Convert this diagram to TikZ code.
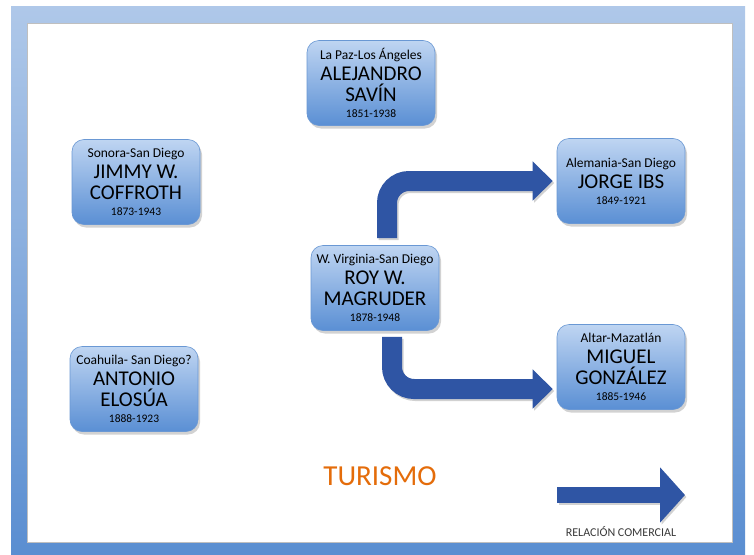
\documentclass[tikz,border=0pt]{standalone}
\usepackage{fontspec}
\setmainfont{Carlito}
\usetikzlibrary{arrows.meta,shadows}
\definecolor{frametop}{HTML}{AFC8E9}
\definecolor{framebot}{HTML}{5A8ED1}
\definecolor{boxtop}{HTML}{BFD5F2}
\definecolor{boxbot}{HTML}{5A8FD4}
\definecolor{boxline}{HTML}{6A98D4}
\definecolor{arrowblue}{HTML}{2F55A4}
\definecolor{turismo}{HTML}{E46C0A}
\definecolor{legendtext}{HTML}{3A3A3A}
\newcommand{\origin}[1]{{\fontsize{13.5}{21}\selectfont #1}}
\newcommand{\years}[1]{{\fontsize{11.5}{21}\selectfont #1}}
\begin{document}
\begin{tikzpicture}[x=1pt,y=-1pt,
  person/.style={rounded corners=12pt, minimum width=128pt, minimum height=85pt,
    inner sep=2pt, align=center, top color=boxtop, bottom color=boxbot,
    draw=boxline, line width=0.6pt,
    drop shadow={shadow xshift=2pt, shadow yshift=-3pt, opacity=0.35},
    font=\fontsize{21}{21}\selectfont},
  flow/.style={draw=arrowblue, line width=20pt, rounded corners=22pt,
    -{Triangle[length=20pt,width=38pt]}},
  flowshadow/.style={draw=black, opacity=0.18, line width=20pt, rounded corners=22pt,
    -{Triangle[length=20pt,width=38pt]}, transform canvas={xshift=1.5pt,yshift=-2pt}},
]
\useasboundingbox (0,0) rectangle (754,554);
% frame
\shade[top color=frametop, bottom color=framebot] (11,6) rectangle (745,554);
\fill[white] (27,23) rectangle (732,542);
\draw[black!25, line width=0.8pt] (27,23) rectangle (732,542);

% people
\node[person] (savin) at (371,83)
  {\origin{La Paz-Los Ángeles}\\ALEJANDRO\\SAVÍN\\[-5pt]\years{1851-1938}};
\node[person] (coffroth) at (136,182)
  {\origin{Sonora-San Diego}\\JIMMY W.\\COFFROTH\\[-5pt]\years{1873-1943}};
\node[person] (magruder) at (375,288)
  {\origin{W. Virginia-San Diego}\\ROY W.\\MAGRUDER\\[-5pt]\years{1878-1948}};
\node[person] (ibs) at (621,181)
  {\origin{Alemania-San Diego}\\JORGE IBS\\[-5pt]\years{1849-1921}};
\node[person] (gonzalez) at (621,367)
  {\origin{Altar-Mazatlán}\\MIGUEL\\GONZÁLEZ\\[-5pt]\years{1885-1946}};
\node[person] (elosua) at (134,389)
  {\origin{Coahuila- San Diego?}\\ANTONIO\\ELOSÚA\\[-5pt]\years{1888-1923}};

% connectors
\draw[flowshadow] ([xshift=12pt,yshift=7pt]magruder.north) |- ([xshift=-4pt]ibs.west);
\draw[flow] ([xshift=12pt,yshift=7pt]magruder.north) |- ([xshift=-4pt]ibs.west);
\draw[flowshadow] ([xshift=17pt,yshift=-6pt]magruder.south) |- ([xshift=-4pt,yshift=-22pt]gonzalez.west);
\draw[flow] ([xshift=17pt,yshift=-6pt]magruder.south) |- ([xshift=-4pt,yshift=-22pt]gonzalez.west);

% title
\node[text=turismo, font=\fontsize{29}{29}\selectfont] (title) at (380,476) {TURISMO};

% legend
\coordinate (legstart) at (557,495);
\coordinate (legend) at (685,495);
\draw[draw=black, opacity=0.18, line width=16pt, -{Triangle[length=25pt,width=54pt]},
  transform canvas={xshift=1.5pt,yshift=-2pt}] (legstart) -- (legend);
\draw[draw=arrowblue, line width=16pt, -{Triangle[length=25pt,width=54pt]}] (legstart) -- (legend);
\node[text=legendtext, font=\fontsize{12}{12}\selectfont] (legendlabel) at (621,532) {RELACIÓN COMERCIAL};
\end{tikzpicture}
\end{document}
